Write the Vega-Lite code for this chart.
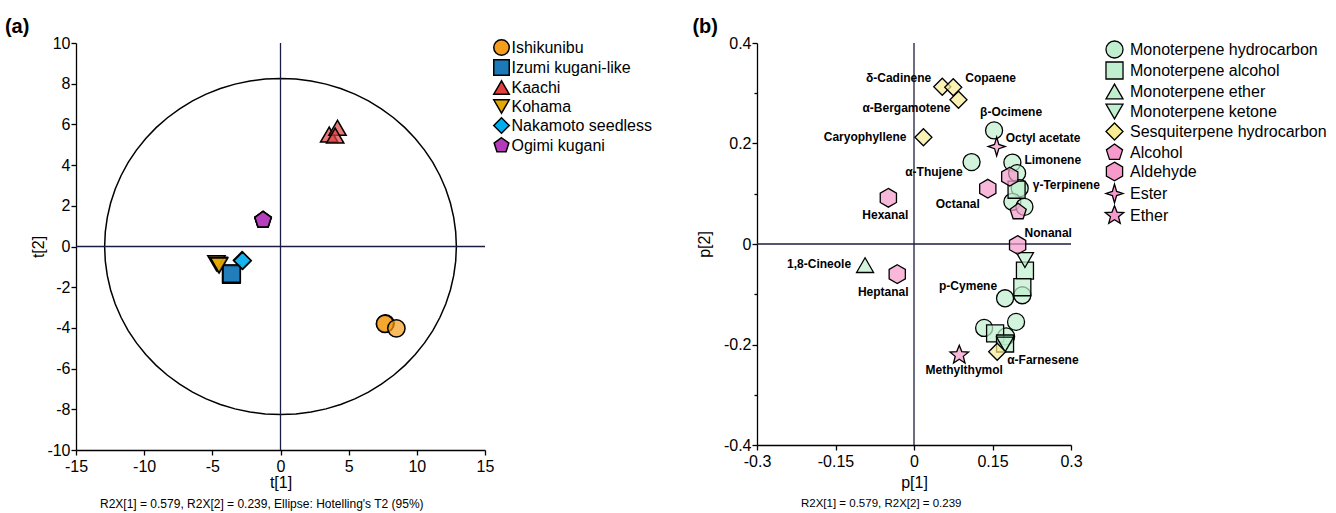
{
  "$schema": "https://vega.github.io/schema/vega-lite/v6.json",
  "padding": {"left": 4, "top": 17, "right": 5, "bottom": 2},
  "background": "white",
  "resolve": {"scale": {"fill": "independent", "shape": "independent"}, "legend": {"fill": "independent", "shape": "independent"}},
  "config": {
    "font": "Liberation Sans",
    "view": {"stroke": null},
    "concat": {"spacing": 39},
    "axis": {
      "grid": false,
      "domainColor": "black",
      "domainWidth": 1.3,
      "tickColor": "black",
      "tickWidth": 1.3,
      "labelColor": "black",
      "titleColor": "black",
      "labelFont": "Liberation Sans",
      "titleFont": "Liberation Sans",
      "labelFontSize": 16,
      "titleFontSize": 16,
      "titleFontWeight": "normal",
      "labelFlush": false,
      "labelOverlap": false,
      "labelBound": false
    },
    "legend": {
      "labelFont": "Liberation Sans",
      "labelFontSize": 16,
      "labelColor": "black",
      "labelLimit": 400,
      "symbolStrokeColor": "black",
      "symbolStrokeWidth": 1.5
    },
    "title": {"font": "Liberation Sans", "color": "black"}
  },
  "datasets": {
    "scores": [
      {"x": 7.7, "y": -3.78, "cultivar": "Ishikunibu"},
      {"x": 7.66, "y": -3.8, "cultivar": "Ishikunibu"},
      {"x": 8.5, "y": -4.02, "cultivar": "Ishikunibu"},
      {"x": -3.62, "y": -1.35, "cultivar": "Izumi kugani-like"},
      {"x": -3.6, "y": -1.38, "cultivar": "Izumi kugani-like"},
      {"x": -3.58, "y": -1.33, "cultivar": "Izumi kugani-like"},
      {"x": 3.57, "y": 5.5, "cultivar": "Kaachi"},
      {"x": 4.18, "y": 5.83, "cultivar": "Kaachi"},
      {"x": 4.01, "y": 5.45, "cultivar": "Kaachi"},
      {"x": -4.7, "y": -0.82, "cultivar": "Kohama"},
      {"x": -4.55, "y": -0.9, "cultivar": "Kohama"},
      {"x": -4.5, "y": -0.93, "cultivar": "Kohama"},
      {"x": -2.82, "y": -0.68, "cultivar": "Nakamoto seedless"},
      {"x": -2.78, "y": -0.7, "cultivar": "Nakamoto seedless"},
      {"x": -1.28, "y": 1.3, "cultivar": "Ogimi kugani"},
      {"x": -1.28, "y": 1.3, "cultivar": "Ogimi kugani"},
      {"x": -1.28, "y": 1.3, "cultivar": "Ogimi kugani"}
    ],
    "ellipse": [
      {"i": 0, "x": 12.9, "y": 0}, {"i": 1, "x": 12.851, "y": 0.72}, {"i": 2, "x": 12.704, "y": 1.434},
      {"i": 3, "x": 12.461, "y": 2.138}, {"i": 4, "x": 12.122, "y": 2.825}, {"i": 5, "x": 11.691, "y": 3.491},
      {"i": 6, "x": 11.172, "y": 4.13}, {"i": 7, "x": 10.567, "y": 4.738}, {"i": 8, "x": 9.882, "y": 5.309},
      {"i": 9, "x": 9.122, "y": 5.841}, {"i": 10, "x": 8.292, "y": 6.327}, {"i": 11, "x": 7.399, "y": 6.766},
      {"i": 12, "x": 6.45, "y": 7.153}, {"i": 13, "x": 5.452, "y": 7.486}, {"i": 14, "x": 4.412, "y": 7.762},
      {"i": 15, "x": 3.339, "y": 7.979}, {"i": 16, "x": 2.24, "y": 8.135}, {"i": 17, "x": 1.124, "y": 8.229},
      {"i": 18, "x": 0, "y": 8.26}, {"i": 19, "x": -1.124, "y": 8.229}, {"i": 20, "x": -2.24, "y": 8.135},
      {"i": 21, "x": -3.339, "y": 7.979}, {"i": 22, "x": -4.412, "y": 7.762}, {"i": 23, "x": -5.452, "y": 7.486},
      {"i": 24, "x": -6.45, "y": 7.153}, {"i": 25, "x": -7.399, "y": 6.766}, {"i": 26, "x": -8.292, "y": 6.327},
      {"i": 27, "x": -9.122, "y": 5.841}, {"i": 28, "x": -9.882, "y": 5.309}, {"i": 29, "x": -10.567, "y": 4.738},
      {"i": 30, "x": -11.172, "y": 4.13}, {"i": 31, "x": -11.691, "y": 3.491}, {"i": 32, "x": -12.122, "y": 2.825},
      {"i": 33, "x": -12.461, "y": 2.138}, {"i": 34, "x": -12.704, "y": 1.434}, {"i": 35, "x": -12.851, "y": 0.72},
      {"i": 36, "x": -12.9, "y": 0}, {"i": 37, "x": -12.851, "y": -0.72}, {"i": 38, "x": -12.704, "y": -1.434},
      {"i": 39, "x": -12.461, "y": -2.138}, {"i": 40, "x": -12.122, "y": -2.825}, {"i": 41, "x": -11.691, "y": -3.491},
      {"i": 42, "x": -11.172, "y": -4.13}, {"i": 43, "x": -10.567, "y": -4.738}, {"i": 44, "x": -9.882, "y": -5.309},
      {"i": 45, "x": -9.122, "y": -5.841}, {"i": 46, "x": -8.292, "y": -6.327}, {"i": 47, "x": -7.399, "y": -6.766},
      {"i": 48, "x": -6.45, "y": -7.153}, {"i": 49, "x": -5.452, "y": -7.486}, {"i": 50, "x": -4.412, "y": -7.762},
      {"i": 51, "x": -3.339, "y": -7.979}, {"i": 52, "x": -2.24, "y": -8.135}, {"i": 53, "x": -1.124, "y": -8.229},
      {"i": 54, "x": 0, "y": -8.26}, {"i": 55, "x": 1.124, "y": -8.229}, {"i": 56, "x": 2.24, "y": -8.135},
      {"i": 57, "x": 3.339, "y": -7.979}, {"i": 58, "x": 4.412, "y": -7.762}, {"i": 59, "x": 5.452, "y": -7.486},
      {"i": 60, "x": 6.45, "y": -7.153}, {"i": 61, "x": 7.399, "y": -6.766}, {"i": 62, "x": 8.292, "y": -6.327},
      {"i": 63, "x": 9.122, "y": -5.841}, {"i": 64, "x": 9.882, "y": -5.309}, {"i": 65, "x": 10.567, "y": -4.738},
      {"i": 66, "x": 11.172, "y": -4.13}, {"i": 67, "x": 11.691, "y": -3.491}, {"i": 68, "x": 12.122, "y": -2.825},
      {"i": 69, "x": 12.461, "y": -2.138}, {"i": 70, "x": 12.704, "y": -1.434}, {"i": 71, "x": 12.851, "y": -0.72},
      {"i": 72, "x": 12.9, "y": 0}
    ],
    "loadings": [
      {"x": 0.153, "y": 0.226, "cls": "Monoterpene hydrocarbon", "label": "β-Ocimene"},
      {"x": 0.11, "y": 0.163, "cls": "Monoterpene hydrocarbon", "label": "α-Thujene"},
      {"x": 0.188, "y": 0.162, "cls": "Monoterpene hydrocarbon", "label": "Limonene"},
      {"x": 0.197, "y": 0.141, "cls": "Monoterpene hydrocarbon", "label": ""},
      {"x": 0.202, "y": 0.111, "cls": "Monoterpene hydrocarbon", "label": "γ-Terpinene"},
      {"x": 0.188, "y": 0.084, "cls": "Monoterpene hydrocarbon", "label": ""},
      {"x": 0.211, "y": 0.074, "cls": "Monoterpene hydrocarbon", "label": ""},
      {"x": 0.207, "y": -0.102, "cls": "Monoterpene hydrocarbon", "label": ""},
      {"x": 0.174, "y": -0.108, "cls": "Monoterpene hydrocarbon", "label": "p-Cymene"},
      {"x": 0.195, "y": -0.155, "cls": "Monoterpene hydrocarbon", "label": ""},
      {"x": 0.134, "y": -0.167, "cls": "Monoterpene hydrocarbon", "label": ""},
      {"x": 0.176, "y": -0.184, "cls": "Monoterpene hydrocarbon", "label": ""},
      {"x": 0.196, "y": 0.108, "cls": "Monoterpene alcohol", "label": ""},
      {"x": 0.212, "y": -0.053, "cls": "Monoterpene alcohol", "label": ""},
      {"x": 0.207, "y": -0.086, "cls": "Monoterpene alcohol", "label": ""},
      {"x": 0.155, "y": -0.178, "cls": "Monoterpene alcohol", "label": ""},
      {"x": 0.174, "y": -0.198, "cls": "Monoterpene alcohol", "label": ""},
      {"x": -0.0935, "y": -0.042, "cls": "Monoterpene ether", "label": "1,8-Cineole"},
      {"x": 0.212, "y": -0.032, "cls": "Monoterpene ketone", "label": ""},
      {"x": 0.174, "y": -0.2, "cls": "Monoterpene ketone", "label": ""},
      {"x": 0.054, "y": 0.313, "cls": "Sesquiterpene hydrocarbon", "label": "δ-Cadinene"},
      {"x": 0.075, "y": 0.312, "cls": "Sesquiterpene hydrocarbon", "label": "Copaene"},
      {"x": 0.085, "y": 0.287, "cls": "Sesquiterpene hydrocarbon", "label": "α-Bergamotene"},
      {"x": 0.018, "y": 0.2125, "cls": "Sesquiterpene hydrocarbon", "label": "Caryophyllene"},
      {"x": 0.159, "y": -0.2145, "cls": "Sesquiterpene hydrocarbon", "label": "α-Farnesene"},
      {"x": 0.199, "y": 0.064, "cls": "Alcohol", "label": ""},
      {"x": 0.183, "y": 0.134, "cls": "Aldehyde", "label": ""},
      {"x": 0.141, "y": 0.11, "cls": "Aldehyde", "label": "Octanal"},
      {"x": -0.049, "y": 0.092, "cls": "Aldehyde", "label": "Hexanal"},
      {"x": 0.198, "y": -0.002, "cls": "Aldehyde", "label": "Nonanal"},
      {"x": -0.032, "y": -0.06, "cls": "Aldehyde", "label": "Heptanal"},
      {"x": 0.158, "y": 0.194, "cls": "Ester", "label": "Octyl acetate"},
      {"x": 0.0865, "y": -0.221, "cls": "Ether", "label": "Methylthymol"}
    ]
  },
  "hconcat": [
    {
      "title": {"text": "(a)", "anchor": "start", "fontSize": 20, "fontWeight": "bold", "dx": -26, "offset": -2},
      "vconcat": [
        {
          "width": 409,
          "height": 407,
          "title": {"text": "R2X[1] = 0.579, R2X[2] = 0.239, Ellipse: Hotelling's T2 (95%)", "orient": "bottom", "anchor": "start", "frame": "group", "dx": 24, "fontSize": 12, "fontWeight": "normal", "offset": 9},
          "layer": [
            {
              "data": {"name": "ellipse"},
              "mark": {"type": "line", "color": "black", "strokeWidth": 1.5},
              "encoding": {
                "x": {"field": "x", "type": "quantitative", "scale": {"domain": [-15, 15], "nice": false},
                  "axis": {"title": "t[1]", "values": [-15, -12.5, -10, -7.5, -5, -2.5, 0, 2.5, 5, 7.5, 10, 12.5, 15],
                    "labelExpr": "datum.value % 5 === 0 ? '' + datum.value : ''",
                    "tickSize": {"condition": {"test": "datum.value % 5 !== 0", "value": 3}, "value": 5},
                    "labelPadding": 3, "titlePadding": 0}},
                "y": {"field": "y", "type": "quantitative", "scale": {"domain": [-10, 10], "nice": false},
                  "axis": {"title": "t[2]", "values": [-10, -9, -8, -7, -6, -5, -4, -3, -2, -1, 0, 1, 2, 3, 4, 5, 6, 7, 8, 9, 10],
                    "labelExpr": "datum.value % 2 === 0 ? '' + datum.value : ''",
                    "tickSize": {"condition": {"test": "datum.value % 2 !== 0", "value": 3}, "value": 5},
                    "labelPadding": 1, "titlePadding": 0}},
                "order": {"field": "i", "type": "quantitative"}
              }
            },
            {
              "data": {"values": [{}]},
              "mark": {"type": "rule", "color": "#1c1c40", "strokeWidth": 1.3},
              "encoding": {"x": {"datum": 0}}
            },
            {
              "data": {"values": [{}]},
              "mark": {"type": "rule", "color": "#1c1c40", "strokeWidth": 1.3},
              "encoding": {"y": {"datum": 0}}
            },
            {
              "data": {"name": "scores"},
              "mark": {"type": "point", "filled": true, "size": 300, "stroke": "black", "strokeWidth": 1.5, "fillOpacity": 0.7},
              "encoding": {
                "x": {"field": "x", "type": "quantitative"},
                "y": {"field": "y", "type": "quantitative"},
                "fill": {"field": "cultivar", "type": "nominal",
                  "scale": {"domain": ["Ishikunibu", "Izumi kugani-like", "Kaachi", "Kohama", "Nakamoto seedless", "Ogimi kugani"],
                    "range": ["#F59E1B", "#1C7AB8", "#E43F3F", "#E5A800", "#00AEEF", "#B33BBA"]},
                  "legend": {"title": null, "orient": "none", "legendX": 417, "legendY": -4, "symbolSize": 240, "rowPadding": -4, "labelOffset": 1.5,
                    "encode": {"symbols": {"update": {"stroke": {"value": "black"}, "strokeWidth": {"value": 1.5}}}}}},
                "shape": {"field": "cultivar", "type": "nominal",
                  "scale": {"domain": ["Ishikunibu", "Izumi kugani-like", "Kaachi", "Kohama", "Nakamoto seedless", "Ogimi kugani"],
                    "range": ["circle", "square", "triangle-up", "triangle-down", "diamond", "M0,-1L0.951,-0.309L0.588,0.809L-0.588,0.809L-0.951,-0.309Z"]},
                  "legend": {"title": null, "orient": "none", "legendX": 417, "legendY": -4, "symbolSize": 240, "rowPadding": -4, "labelOffset": 1.5}}
              }
            }
          ]
        }
      ]
    },
    {
      "title": {"text": "(b)", "anchor": "start", "fontSize": 20, "fontWeight": "bold", "dx": -4, "offset": -2},
      "vconcat": [
        {
          "width": 314,
          "height": 402,
          "title": {"text": "R2X[1] = 0.579, R2X[2] = 0.239", "orient": "bottom", "anchor": "start", "frame": "group", "dx": 44, "fontSize": 11.5, "fontWeight": "normal", "offset": 8},
          "data": {"name": "loadings"},
          "layer": [
            {
              "data": {"values": [{}]},
              "mark": {"type": "rule", "color": "#1c1c40", "strokeWidth": 1.3},
              "encoding": {"x": {"datum": 0, "type": "quantitative", "scale": {"domain": [-0.3, 0.3], "nice": false},
                  "axis": {"title": "p[1]", "values": [-0.3, -0.225, -0.15, -0.075, 0, 0.075, 0.15, 0.225, 0.3],
                    "labelExpr": "(abs(datum.value) === 0.3 || abs(datum.value) === 0.15 || datum.value === 0) ? '' + datum.value : ''",
                    "tickSize": {"condition": {"test": "abs(datum.value) === 0.075 || abs(datum.value) === 0.225", "value": 3}, "value": 5},
                    "labelPadding": 3, "titlePadding": 5}}}
            },
            {
              "data": {"values": [{}]},
              "mark": {"type": "rule", "color": "#1c1c40", "strokeWidth": 1.3},
              "encoding": {"y": {"datum": 0, "type": "quantitative", "scale": {"domain": [-0.4, 0.4], "nice": false},
                  "axis": {"title": "p[2]", "values": [-0.4, -0.3, -0.2, -0.1, 0, 0.1, 0.2, 0.3, 0.4],
                    "labelExpr": "(abs(datum.value) === 0.4 || abs(datum.value) === 0.2 || datum.value === 0) ? '' + datum.value : ''",
                    "tickSize": {"condition": {"test": "abs(datum.value) === 0.1 || abs(datum.value) === 0.3", "value": 3}, "value": 5},
                    "labelPadding": 1, "titlePadding": 11}}}
            },
            {
              "mark": {"type": "point", "filled": true, "size": 290, "stroke": "black", "strokeWidth": 1.3, "fillOpacity": 0.7},
              "encoding": {
                "x": {"field": "x", "type": "quantitative"},
                "y": {"field": "y", "type": "quantitative"},
                "fill": {"field": "cls", "type": "nominal",
                  "scale": {"domain": ["Monoterpene hydrocarbon", "Monoterpene alcohol", "Monoterpene ether", "Monoterpene ketone", "Sesquiterpene hydrocarbon", "Alcohol", "Aldehyde", "Ester", "Ether"],
                    "range": ["#BFEFCF", "#BFEFCF", "#BFEFCF", "#BFEFCF", "#F8EC94", "#F59ACB", "#F59ACB", "#F59ACB", "#F59ACB"]},
                  "legend": {"title": null, "orient": "none", "legendX": 348, "legendY": -3, "symbolSize": 290, "rowPadding": -11, "labelOffset": 6,
                    "encode": {"symbols": {"update": {"stroke": {"value": "black"}, "strokeWidth": {"value": 1.3}}}}}},
                "shape": {"field": "cls", "type": "nominal",
                  "scale": {"domain": ["Monoterpene hydrocarbon", "Monoterpene alcohol", "Monoterpene ether", "Monoterpene ketone", "Sesquiterpene hydrocarbon", "Alcohol", "Aldehyde", "Ester", "Ether"],
                    "range": ["circle", "square", "triangle-up", "triangle-down", "diamond",
                      "M0,-1L0.951,-0.309L0.588,0.809L-0.588,0.809L-0.951,-0.309Z",
                      "M0,-1.1L0.953,-0.55L0.953,0.55L0,1.1L-0.953,0.55L-0.953,-0.55Z",
                      "M0,-1.1L0.25,-0.25L1,0L0.25,0.25L0,1.1L-0.25,0.25L-1,0L-0.25,-0.25Z",
                      "M0,-1.15L0.294,-0.405L1.094,-0.355L0.476,0.155L0.676,0.93L0,0.5L-0.676,0.93L-0.476,0.155L-1.094,-0.355L-0.294,-0.405Z"]},
                  "legend": {"title": null, "orient": "none", "legendX": 348, "legendY": -3, "symbolSize": 290, "rowPadding": -11, "labelOffset": 6}}
              }
            },
            {"transform": [{"filter": "datum.label === 'δ-Cadinene'"}], "mark": {"type": "text", "align": "right", "dx": -11, "dy": -9, "fontWeight": "bold", "fontSize": 12, "color": "black"}, "encoding": {"x": {"field": "x", "type": "quantitative"}, "y": {"field": "y", "type": "quantitative"}, "text": {"field": "label"}}},
            {"transform": [{"filter": "datum.label === 'Copaene'"}], "mark": {"type": "text", "align": "left", "dx": 12, "dy": -9, "fontWeight": "bold", "fontSize": 12, "color": "black"}, "encoding": {"x": {"field": "x", "type": "quantitative"}, "y": {"field": "y", "type": "quantitative"}, "text": {"field": "label"}}},
            {"transform": [{"filter": "datum.label === 'α-Bergamotene'"}], "mark": {"type": "text", "align": "right", "dx": -8, "dy": 8, "fontWeight": "bold", "fontSize": 12, "color": "black"}, "encoding": {"x": {"field": "x", "type": "quantitative"}, "y": {"field": "y", "type": "quantitative"}, "text": {"field": "label"}}},
            {"transform": [{"filter": "datum.label === 'Caryophyllene'"}], "mark": {"type": "text", "align": "right", "dx": -17, "dy": 0, "fontWeight": "bold", "fontSize": 12, "color": "black"}, "encoding": {"x": {"field": "x", "type": "quantitative"}, "y": {"field": "y", "type": "quantitative"}, "text": {"field": "label"}}},
            {"transform": [{"filter": "datum.label === 'β-Ocimene'"}], "mark": {"type": "text", "align": "left", "dx": -14, "dy": -18, "fontWeight": "bold", "fontSize": 12, "color": "black"}, "encoding": {"x": {"field": "x", "type": "quantitative"}, "y": {"field": "y", "type": "quantitative"}, "text": {"field": "label"}}},
            {"transform": [{"filter": "datum.label === 'Octyl acetate'"}], "mark": {"type": "text", "align": "left", "dx": 9, "dy": -9, "fontWeight": "bold", "fontSize": 12, "color": "black"}, "encoding": {"x": {"field": "x", "type": "quantitative"}, "y": {"field": "y", "type": "quantitative"}, "text": {"field": "label"}}},
            {"transform": [{"filter": "datum.label === 'Limonene'"}], "mark": {"type": "text", "align": "left", "dx": 12, "dy": -3, "fontWeight": "bold", "fontSize": 12, "color": "black"}, "encoding": {"x": {"field": "x", "type": "quantitative"}, "y": {"field": "y", "type": "quantitative"}, "text": {"field": "label"}}},
            {"transform": [{"filter": "datum.label === 'α-Thujene'"}], "mark": {"type": "text", "align": "right", "dx": -9, "dy": 10, "fontWeight": "bold", "fontSize": 12, "color": "black"}, "encoding": {"x": {"field": "x", "type": "quantitative"}, "y": {"field": "y", "type": "quantitative"}, "text": {"field": "label"}}},
            {"transform": [{"filter": "datum.label === 'γ-Terpinene'"}], "mark": {"type": "text", "align": "left", "dx": 13, "dy": -3, "fontWeight": "bold", "fontSize": 12, "color": "black"}, "encoding": {"x": {"field": "x", "type": "quantitative"}, "y": {"field": "y", "type": "quantitative"}, "text": {"field": "label"}}},
            {"transform": [{"filter": "datum.label === 'Octanal'"}], "mark": {"type": "text", "align": "right", "dx": -8, "dy": 15, "fontWeight": "bold", "fontSize": 12, "color": "black"}, "encoding": {"x": {"field": "x", "type": "quantitative"}, "y": {"field": "y", "type": "quantitative"}, "text": {"field": "label"}}},
            {"transform": [{"filter": "datum.label === 'Hexanal'"}], "mark": {"type": "text", "align": "center", "dx": -3, "dy": 17, "fontWeight": "bold", "fontSize": 12, "color": "black"}, "encoding": {"x": {"field": "x", "type": "quantitative"}, "y": {"field": "y", "type": "quantitative"}, "text": {"field": "label"}}},
            {"transform": [{"filter": "datum.label === 'Nonanal'"}], "mark": {"type": "text", "align": "left", "dx": 7, "dy": -12, "fontWeight": "bold", "fontSize": 12, "color": "black"}, "encoding": {"x": {"field": "x", "type": "quantitative"}, "y": {"field": "y", "type": "quantitative"}, "text": {"field": "label"}}},
            {"transform": [{"filter": "datum.label === '1,8-Cineole'"}], "mark": {"type": "text", "align": "right", "dx": -14, "dy": -1, "fontWeight": "bold", "fontSize": 12, "color": "black"}, "encoding": {"x": {"field": "x", "type": "quantitative"}, "y": {"field": "y", "type": "quantitative"}, "text": {"field": "label"}}},
            {"transform": [{"filter": "datum.label === 'Heptanal'"}], "mark": {"type": "text", "align": "center", "dx": -14, "dy": 18, "fontWeight": "bold", "fontSize": 12, "color": "black"}, "encoding": {"x": {"field": "x", "type": "quantitative"}, "y": {"field": "y", "type": "quantitative"}, "text": {"field": "label"}}},
            {"transform": [{"filter": "datum.label === 'p-Cymene'"}], "mark": {"type": "text", "align": "right", "dx": -8, "dy": -12, "fontWeight": "bold", "fontSize": 12, "color": "black"}, "encoding": {"x": {"field": "x", "type": "quantitative"}, "y": {"field": "y", "type": "quantitative"}, "text": {"field": "label"}}},
            {"transform": [{"filter": "datum.label === 'α-Farnesene'"}], "mark": {"type": "text", "align": "left", "dx": 10, "dy": 8, "fontWeight": "bold", "fontSize": 12, "color": "black"}, "encoding": {"x": {"field": "x", "type": "quantitative"}, "y": {"field": "y", "type": "quantitative"}, "text": {"field": "label"}}},
            {"transform": [{"filter": "datum.label === 'Methylthymol'"}], "mark": {"type": "text", "align": "center", "dx": 5, "dy": 15, "fontWeight": "bold", "fontSize": 12, "color": "black"}, "encoding": {"x": {"field": "x", "type": "quantitative"}, "y": {"field": "y", "type": "quantitative"}, "text": {"field": "label"}}}
          ]
        }
      ]
    }
  ]
}
